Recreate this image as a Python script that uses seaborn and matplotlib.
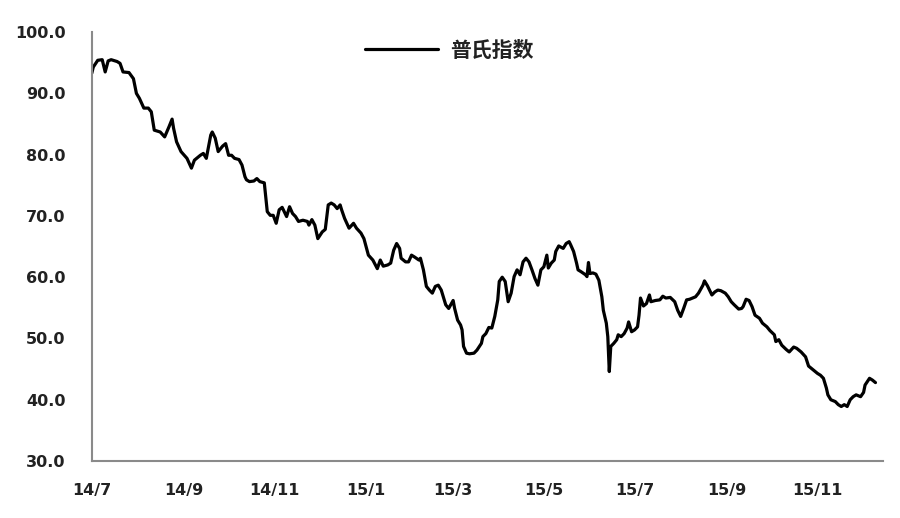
import pandas as pd
import matplotlib.pyplot as plt
import matplotlib.dates as mdates
import seaborn as sns

# Platts index, values
dates = [
    '2014-07-01', '2014-07-02', '2014-07-05', '2014-07-08', '2014-07-10', '2014-07-12',
    '2014-07-14', '2014-07-18', '2014-07-20', '2014-07-22', '2014-07-26', '2014-07-29',
    '2014-07-31', '2014-08-02', '2014-08-05', '2014-08-08', '2014-08-10', '2014-08-12',
    '2014-08-16', '2014-08-19', '2014-08-22', '2014-08-24', '2014-08-25', '2014-08-27',
    '2014-08-30', '2014-09-03', '2014-09-06', '2014-09-08', '2014-09-12', '2014-09-14',
    '2014-09-16', '2014-09-19', '2014-09-20', '2014-09-22', '2014-09-24', '2014-09-27',
    '2014-09-29', '2014-10-01', '2014-10-03', '2014-10-05', '2014-10-08', '2014-10-10',
    '2014-10-12', '2014-10-13', '2014-10-15', '2014-10-18', '2014-10-20', '2014-10-22',
    '2014-10-25', '2014-10-26', '2014-10-27', '2014-10-29', '2014-10-31', '2014-11-02',
    '2014-11-04', '2014-11-06', '2014-11-09', '2014-11-11', '2014-11-13', '2014-11-15',
    '2014-11-17', '2014-11-20', '2014-11-23', '2014-11-24', '2014-11-26', '2014-11-28',
    '2014-11-30', '2014-12-03', '2014-12-05', '2014-12-07', '2014-12-09', '2014-12-11',
    '2014-12-13', '2014-12-15', '2014-12-16', '2014-12-18', '2014-12-21', '2014-12-24',
    '2014-12-26', '2014-12-29', '2014-12-31', '2015-01-03', '2015-01-06', '2015-01-09',
    '2015-01-11', '2015-01-13', '2015-01-16', '2015-01-18', '2015-01-20', '2015-01-22',
    '2015-01-24', '2015-01-25', '2015-01-28', '2015-01-30', '2015-02-01', '2015-02-03',
    '2015-02-06', '2015-02-07', '2015-02-09', '2015-02-11', '2015-02-13', '2015-02-15',
    '2015-02-17', '2015-02-19', '2015-02-21', '2015-02-24', '2015-02-26', '2015-03-01',
    '2015-03-02', '2015-03-04', '2015-03-06', '2015-03-07', '2015-03-08', '2015-03-10',
    '2015-03-12', '2015-03-15', '2015-03-17', '2015-03-20', '2015-03-21', '2015-03-23',
    '2015-03-25', '2015-03-27', '2015-03-29', '2015-03-31', '2015-04-01', '2015-04-03',
    '2015-04-05', '2015-04-07', '2015-04-09', '2015-04-11', '2015-04-13', '2015-04-15',
    '2015-04-17', '2015-04-19', '2015-04-21', '2015-04-23', '2015-04-25', '2015-04-27',
    '2015-04-29', '2015-05-01', '2015-05-03', '2015-05-04', '2015-05-06', '2015-05-08',
    '2015-05-09', '2015-05-11', '2015-05-14', '2015-05-16', '2015-05-18', '2015-05-19',
    '2015-05-21', '2015-05-23', '2015-05-24', '2015-05-26', '2015-05-29', '2015-05-30',
    '2015-05-31', '2015-06-01', '2015-06-03', '2015-06-05', '2015-06-07', '2015-06-09',
    '2015-06-10', '2015-06-12', '2015-06-13', '2015-06-14', '2015-06-15', '2015-06-17',
    '2015-06-19', '2015-06-20', '2015-06-22', '2015-06-24', '2015-06-26', '2015-06-27',
    '2015-06-29', '2015-07-01', '2015-07-03', '2015-07-04', '2015-07-05', '2015-07-07',
    '2015-07-09', '2015-07-11', '2015-07-12', '2015-07-15', '2015-07-18', '2015-07-20',
    '2015-07-22', '2015-07-25', '2015-07-28', '2015-07-30', '2015-08-01', '2015-08-03',
    '2015-08-05', '2015-08-07', '2015-08-09', '2015-08-11', '2015-08-13', '2015-08-16',
    '2015-08-17', '2015-08-19', '2015-08-22', '2015-08-24', '2015-08-26', '2015-08-28',
    '2015-08-31', '2015-09-02', '2015-09-04', '2015-09-06', '2015-09-09', '2015-09-11',
    '2015-09-12', '2015-09-14', '2015-09-16', '2015-09-18', '2015-09-20', '2015-09-23',
    '2015-09-25', '2015-09-28', '2015-09-30', '2015-10-03', '2015-10-04', '2015-10-06',
    '2015-10-08', '2015-10-11', '2015-10-13', '2015-10-16', '2015-10-18', '2015-10-21',
    '2015-10-24', '2015-10-26', '2015-10-29', '2015-11-01', '2015-11-03', '2015-11-05',
    '2015-11-07', '2015-11-08', '2015-11-10', '2015-11-13', '2015-11-15', '2015-11-17',
    '2015-11-19', '2015-11-21', '2015-11-23', '2015-11-25', '2015-11-27', '2015-11-30',
    '2015-12-02', '2015-12-03', '2015-12-06', '2015-12-08', '2015-12-10',
]

values = [
    93.3, 94.3, 95.4, 95.5, 93.5, 95.3,
    95.5, 95.2, 94.9, 93.5, 93.4, 92.4,
    90.0, 89.2, 87.6, 87.6, 87.0, 84.0,
    83.7, 82.9, 84.6, 85.8, 84.3, 82.1,
    80.5, 79.4, 77.8, 79.1, 79.9, 80.2,
    79.4, 83.2, 83.7, 82.7, 80.5, 81.4,
    81.8, 79.9, 79.9, 79.4, 79.2, 78.3,
    76.4, 75.9, 75.6, 75.7, 76.1, 75.6,
    75.4, 73.1, 70.7, 70.1, 70.1, 68.8,
    71.0, 71.4, 69.9, 71.5, 70.4, 69.9,
    69.1, 69.3, 69.1, 68.5, 69.4, 68.5,
    66.3, 67.4, 67.8, 71.8, 72.1, 71.8,
    71.2, 71.8, 71.0, 69.6, 68.0, 68.8,
    68.0, 67.2, 66.3, 63.6, 62.8, 61.4,
    62.8, 61.8, 62.0, 62.3, 64.4, 65.5,
    64.7, 63.1, 62.5, 62.5, 63.6, 63.3,
    62.8, 63.1, 61.2, 58.5, 57.9, 57.4,
    58.5, 58.7, 57.9, 55.5, 54.9, 56.2,
    54.9, 53.0, 52.2, 51.4, 48.7, 47.6,
    47.5, 47.6, 48.1, 49.2, 50.3, 50.8,
    51.8, 51.7, 53.6, 56.3, 59.3, 60.0,
    59.3, 56.0, 57.4, 60.1, 61.2, 60.4,
    62.5, 63.1, 62.5, 61.2, 59.8, 58.7,
    61.2, 61.7, 63.6, 61.5, 62.3, 62.8,
    64.2, 65.1, 64.7, 65.5, 65.8, 65.3,
    64.2, 62.3, 61.2, 60.9, 60.4, 60.1,
    62.4, 60.6, 60.7, 60.5, 59.5, 56.8,
    54.6, 52.5, 50.3, 44.6, 48.7, 49.2,
    49.8, 50.6, 50.3, 50.8, 51.7, 52.7,
    51.1, 51.4, 51.9, 53.8, 56.6, 55.3,
    55.7, 57.1, 56.0, 56.2, 56.3, 56.9,
    56.6, 56.7, 56.0, 54.6, 53.6, 54.9,
    56.3, 56.4, 56.6, 56.8, 57.4, 58.7,
    59.4, 58.6, 57.1, 57.6, 57.9, 57.8,
    57.4, 56.8, 56.0, 55.5, 54.8, 54.9,
    55.2, 56.4, 56.2, 55.2, 53.8, 53.3,
    52.5, 51.9, 51.3, 50.6, 49.5, 49.8,
    48.9, 48.2, 47.8, 48.6, 48.4, 47.8,
    47.0, 45.5, 44.9, 44.3, 44.0, 43.5,
    41.9, 40.8, 40.0, 39.7, 39.2, 38.9,
    39.2, 38.9, 40.0, 40.5, 40.8, 40.5,
    41.2, 42.4, 43.5, 43.2, 42.8,
]

series_name = '普氏指数'
y_ticks = [30, 40, 50, 60, 70, 80, 90, 100]

df = pd.DataFrame({'date': pd.to_datetime(dates), 'value': values})

sns.set_style('white')
plt.rcParams['font.family'] = ['DejaVu Sans', 'Noto Sans CJK SC']

text_color = '#222222'
axis_color = '#8a8a8a'

fig, ax = plt.subplots(figsize=(9, 5.18), dpi=100)
fig.subplots_adjust(left=0.102, right=0.981, bottom=0.110, top=0.938)

sns.lineplot(data=df, x='date', y='value', ax=ax, color='black', linewidth=2.3,
             estimator=None, sort=False, label=series_name)

# axes limits and ticks
ax.set_xlim(pd.Timestamp('2014-07-01'), pd.Timestamp('2015-12-15'))
ax.set_ylim(30, 100)
ax.set_yticks(y_ticks)
ax.yaxis.set_major_formatter(plt.FuncFormatter(lambda v, p: f'{v:.1f}'))
ax.xaxis.set_major_locator(mdates.MonthLocator(bymonth=[1, 3, 5, 7, 9, 11]))
ax.xaxis.set_major_formatter(plt.FuncFormatter(
    lambda v, p: f'{mdates.num2date(v).year % 100}/{mdates.num2date(v).month}'))

ax.set_xlabel('')
ax.set_ylabel('')
ax.tick_params(axis='both', direction='in', length=5, width=1.2, color=axis_color,
               labelsize=11.5, labelcolor=text_color)
ax.tick_params(axis='y', pad=19)
ax.tick_params(axis='x', pad=16)
for lbl in ax.get_xticklabels() + ax.get_yticklabels():
    lbl.set_fontweight('bold')

sns.despine(ax=ax)
for side in ['left', 'bottom']:
    ax.spines[side].set_color(axis_color)
    ax.spines[side].set_linewidth(1.5)

leg = ax.legend(loc='center left', bbox_to_anchor=(0.345, 0.958), frameon=False,
                handlelength=3.5, handletextpad=0.6, borderpad=0, borderaxespad=0,
                prop={'family': ['Noto Sans CJK SC', 'DejaVu Sans'], 'size': 15, 'weight': 'bold'})
for t in leg.get_texts():
    t.set_color(text_color)
for h in leg.get_lines():
    h.set_linewidth(2.3)

fig.savefig('out.png', dpi=100)
